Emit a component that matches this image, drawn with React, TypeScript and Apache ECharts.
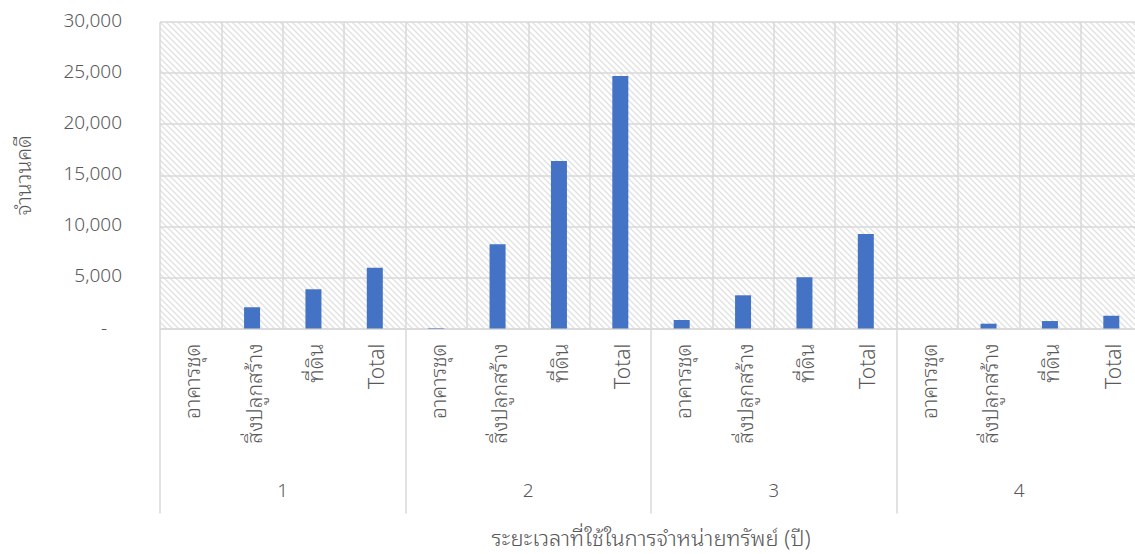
import React, { useEffect, useRef } from "react";
import * as echarts from "echarts";

// Property type within each disposal-period group
const propertyTypes = ["อาคารชุด", "สิ่งปลูกสร้าง", "ที่ดิน", "Total"];
// Disposal periods (years)
const periods = ["1", "2", "3", "4"];

// Number of cases per property type for each period
const period1Cases = [0, 2080, 3840, 5950];
const period2Cases = [50, 8250, 16400, 24710];
const period3Cases = [830, 3250, 5010, 9250];
const period4Cases = [0, 470, 730, 1250];

const yTicks = { min: 0, max: 30000, interval: 5000 };

const xTitle = "ระยะเวลาที่ใช้ในการจำหน่ายทรัพย์ (ปี)";
const yTitle = "จำนวนคดี";

const FONT =
  "'Noto Sans Thai Looped', 'Noto Serif Thai', 'Noto Sans Thai', 'Noto Sans', sans-serif";
const GRID_GREY = "#d9d9d9";
const TEXT_GREY = "#595959";

function makeHatch(): string {
  const size = 6;
  const c = document.createElement("canvas");
  c.width = size;
  c.height = size;
  const ctx = c.getContext("2d")!;
  ctx.fillStyle = "#ffffff";
  ctx.fillRect(0, 0, size, size);
  ctx.strokeStyle = "#e2e2e2";
  ctx.lineWidth = 1.4;
  ctx.beginPath();
  ctx.moveTo(-1, -1);
  ctx.lineTo(size + 1, size + 1);
  ctx.moveTo(-1, size - 1);
  ctx.lineTo(1, size + 1);
  ctx.moveTo(size - 1, -1);
  ctx.lineTo(size + 1, 1);
  ctx.stroke();
  return c.toDataURL();
}

export default function App() {
  const ref = useRef<HTMLDivElement>(null);

  useEffect(() => {
    if (!ref.current) return;
    const chart = echarts.init(ref.current, undefined, { renderer: "svg" });

    const allGroups = [period1Cases, period2Cases, period3Cases, period4Cases];
    const categories: string[] = [];
    const values: number[] = [];
    allGroups.forEach((g) => {
      propertyTypes.forEach((t, i) => {
        categories.push(t);
        values.push(g[i]);
      });
    });

    const text = (size: number) => ({
      fontSize: size,
      color: TEXT_GREY,
      fontFamily: FONT,
      fontWeight: 300,
    });

    chart.setOption({
      animation: false,
      backgroundColor: "#ffffff",
      textStyle: { fontFamily: FONT },
      grid: {
        show: true,
        left: 160,
        right: 1,
        top: 22,
        bottom: 225.5,
        borderWidth: 0,
        backgroundColor: {
          image: makeHatch(),
          repeat: "repeat",
          imageWidth: 6,
          imageHeight: 6,
        },
      },
      xAxis: [
        {
          type: "category",
          data: categories,
          position: "bottom",
          axisLine: { show: true, lineStyle: { color: GRID_GREY, width: 1.5 } },
          axisTick: { show: false },
          splitLine: { show: true, lineStyle: { color: GRID_GREY, width: 1.5 } },
          axisLabel: {
            interval: 0,
            rotate: 90,
            margin: 15,
            ...text(21),
          },
        },
        {
          type: "category",
          data: periods,
          position: "bottom",
          axisLine: { show: false },
          axisTick: {
            show: true,
            length: 185,
            lineStyle: { color: GRID_GREY, width: 1.5 },
          },
          splitLine: { show: false },
          axisLabel: {
            margin: 150,
            ...text(19),
          },
          name: xTitle,
          nameLocation: "middle",
          nameGap: 196,
          nameTextStyle: text(22),
        },
      ],
      yAxis: {
        type: "value",
        min: yTicks.min,
        max: yTicks.max,
        interval: yTicks.interval,
        axisLine: { show: false },
        axisTick: { show: false },
        splitLine: { show: true, lineStyle: { color: GRID_GREY, width: 1.5 } },
        axisLabel: {
          margin: 38,
          ...text(19),
          padding: [0, 0, 7, 0],
          formatter: (v: number) =>
            v === 0 ? "{d|-}" : v.toLocaleString("en-US"),
          rich: {
            d: { ...text(19), padding: [0, 15, 0, 0] },
          },
        },
        name: yTitle,
        nameLocation: "middle",
        nameRotate: 90,
        nameGap: 128,
        nameTextStyle: text(21),
      },
      series: [
        {
          type: "bar",
          xAxisIndex: 0,
          data: values,
          barWidth: 16,
          itemStyle: { color: "#4472c4" },
        },
      ],
    });

    return () => chart.dispose();
  }, []);

  return (
    <div
      style={{
        position: "absolute",
        left: 0,
        top: 0,
        width: 1135,
        height: 554,
        overflow: "hidden",
      }}
    >
      <div ref={ref} style={{ width: 1143, height: 554 }} />
    </div>
  );
}
